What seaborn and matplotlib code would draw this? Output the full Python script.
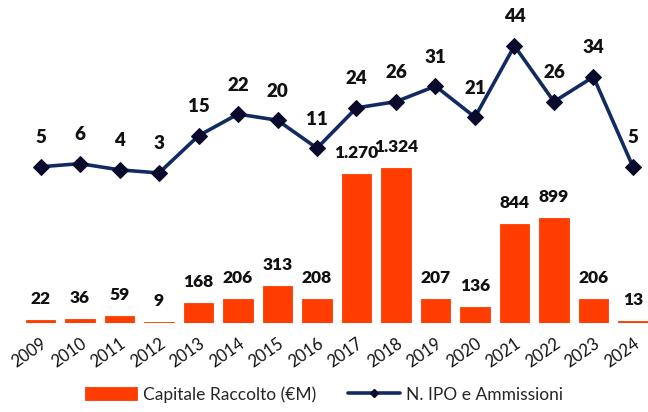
import matplotlib
matplotlib.use("Agg")
import matplotlib.pyplot as plt
from matplotlib.lines import Line2D
import pandas as pd
import seaborn as sns

# ── Data ─────────────────────────────────────────────────────────────────────
years = ["2009", "2010", "2011", "2012", "2013", "2014", "2015", "2016",
         "2017", "2018", "2019", "2020", "2021", "2022", "2023", "2024"]
capitale = [22, 36, 59, 9, 168, 206, 313, 208, 1270, 1324, 207, 136, 844, 899, 206, 13]
n_ipo = [5, 6, 4, 3, 15, 22, 20, 11, 24, 26, 31, 21, 44, 26, 34, 5]

BAR_COLOR = "#FF3D00"
LINE_COLOR = "#112B62"
MARK_COLOR = "#0A0B2C"

sns.set_style("white")
plt.rcParams["font.family"] = ["Lato", "DejaVu Sans"]

df = pd.DataFrame({"Anno": years, "Capitale": capitale, "IPO": n_ipo})

fig = plt.figure(figsize=(6.48, 4.12), dpi=100)
ax = fig.add_axes([0.0309, 0.216, 0.969, 0.76])

sns.barplot(data=df, x="Anno", y="Capitale", color=BAR_COLOR, width=0.74,
            saturation=1, ax=ax, edgecolor=BAR_COLOR, linewidth=0.6,
            label="Capitale Raccolto (€M)")
ax.set_xlim(-0.52, 15.38)
ax.set_ylim(0, 2675)

for i, v in enumerate(capitale):
    ax.annotate(f"{v:,}".replace(",", "."), (i, v), xytext=(0, 13),
                textcoords="offset pixels", ha="center", va="bottom",
                fontsize=12.5, fontweight="heavy", color="#111111")

ax2 = ax.twinx()
ax2.set_position(ax.get_position())
sns.lineplot(x=range(len(years)), y=n_ipo, ax=ax2, color=LINE_COLOR, linewidth=2.6,
             marker="D", markersize=8, markerfacecolor=MARK_COLOR,
             markeredgecolor=MARK_COLOR)
ax2.set_ylim(-45.4, 55.6)
ax2.set_xlim(-0.52, 15.38)

for i, v in enumerate(n_ipo):
    ax2.annotate(str(v), (i, v), xytext=(0, 29), textcoords="offset pixels",
                 ha="center", va="center", fontsize=13.5, fontweight="heavy",
                 color="#111111")

for a in (ax, ax2):
    a.set_xlabel("")
    a.set_ylabel("")
    a.set_yticks([])
    for s in a.spines.values():
        s.set_visible(False)
    if a.get_legend():
        a.get_legend().remove()

ax.tick_params(axis="x", length=0, pad=9, labelsize=12)
plt.setp(ax.get_xticklabels(), rotation=35, ha="right", rotation_mode="anchor",
         color="#111111")

h1, l1 = ax.get_legend_handles_labels()
line_handle = Line2D([], [], color=LINE_COLOR, linewidth=2.6, marker="D",
                     markersize=4.5, markerfacecolor=MARK_COLOR,
                     markeredgecolor=MARK_COLOR)
fig.legend(h1 + [line_handle], l1 + ["N. IPO e Ammissioni"], loc="lower center",
           ncol=2, frameon=False, bbox_to_anchor=(0.5, -0.015), fontsize=12.5,
           handlelength=3.0, columnspacing=1.8, handletextpad=0.35)

fig.savefig("out.png", dpi=100)
